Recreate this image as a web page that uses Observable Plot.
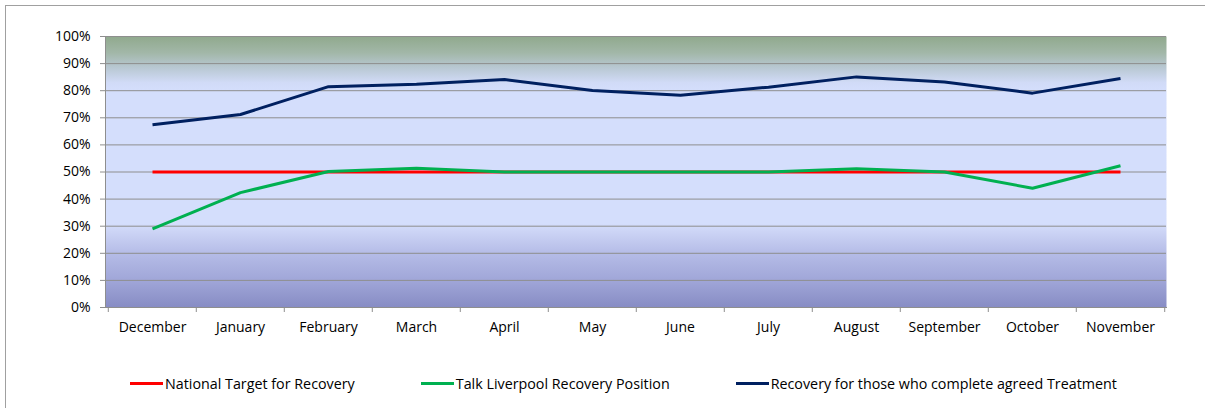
<!DOCTYPE html>
<html>
<head>
<meta charset="utf-8">
<script src="https://cdn.jsdelivr.net/npm/d3@7"></script>
<script src="https://cdn.jsdelivr.net/npm/@observablehq/plot@0.6"></script>
<style>
  html, body { margin: 0; padding: 0; background: #fff; }
  #wrap { position: relative; width: 1205px; height: 408px; overflow: hidden; font-family: "Open Sans", sans-serif; }
  #border { position: absolute; left: 5px; top: 5px; width: 1220px; height: 420px; border: 1px solid #a0a0a0; box-sizing: border-box; }
  #chart { position: absolute; left: 0; top: 0; }
  #legend { position: absolute; left: 130px; top: 374px; display: flex; align-items: center; font-size: 14.3px; color: #000; }
  .item { display: flex; align-items: center; margin-right: 66px; white-space: nowrap; }
  .swatch { width: 33px; height: 3px; margin-right: 2px; }
</style>
</head>
<body>
<div id="wrap">
  <div id="border"></div>
  <div id="chart"></div>
  <div id="legend"></div>
</div>
<script>
const months = ["December","January","February","March","April","May","June","July","August","September","October","November"];
const seriesNames = ["National Target for Recovery","Talk Liverpool Recovery Position","Recovery for those who complete agreed Treatment"];
const nationalTarget = [50,50,50,50,50,50,50,50,50,50,50,50];
const talkLiverpool = [29.0,42.4,50.2,51.4,50,50,50,50,51.2,50,44,52.3];
const completedTreatment = [67.4,71.2,81.5,82.4,84.1,80.1,78.3,81.3,85.1,83.2,79.1,84.5];
const yTicks = [0,10,20,30,40,50,60,70,80,90,100];
const colors = ["#ff0000","#00b050","#002060"];

const allSeries = [nationalTarget, talkLiverpool, completedTreatment];
const data = [];
allSeries.forEach((vals, s) => vals.forEach((v, i) => data.push({series: seriesNames[s], month: months[i], value: v})));

const W = 1205, H = 345, mL = 105, mR = 39, mT = 36, mB = 38;
const step = (W - mL - mR) / months.length;
const gridColor = "#8e8e8e";

const chart = Plot.plot({
  width: W, height: H,
  marginLeft: mL, marginRight: mR, marginTop: mT, marginBottom: mB,
  style: {fontFamily: "'Open Sans', sans-serif", fontSize: "14px", color: "#000", background: "transparent"},
  x: {type: "point", domain: months, padding: 0.5, label: null},
  y: {domain: [0, 100], label: null},
  color: {domain: seriesNames, range: colors},
  marks: [
    Plot.frame({fill: "url(#bgGrad)", stroke: "none"}),
    Plot.gridY(yTicks, {stroke: gridColor, strokeOpacity: 1, strokeWidth: 1}),
    Plot.frame({anchor: "left", stroke: gridColor}),
    Plot.frame({anchor: "bottom", stroke: gridColor}),
    Plot.axisY(yTicks, {tickFormat: d => d + "%", tickSize: 5, tickPadding: 10, stroke: gridColor, fill: "#000", label: null}),
    Plot.axisX({tickSize: 0, tickPadding: 15, fill: "#000", label: null}),
    Plot.axisX(months, {tickSize: 5, text: null, dx: -step / 2, stroke: gridColor, label: null}),
    Plot.axisX([months[months.length - 1]], {tickSize: 5, text: null, dx: step / 2, stroke: gridColor, label: null}),
    Plot.line(data, {x: "month", y: "value", z: "series", stroke: "series", strokeWidth: 3, strokeLinejoin: "round", strokeLinecap: "butt"})
  ]
});

const defs = d3.select(chart).insert("defs", ":first-child");
const grad = defs.append("linearGradient").attr("id", "bgGrad").attr("x1", 0).attr("y1", 0).attr("x2", 0).attr("y2", 1);
[
  [0, "#90a98d"], [0.06, "#a2b7a8"], [0.11, "#b6c6cf"], [0.17, "#d1dbf7"], [0.2, "#d4defc"],
  [0.69, "#d4defc"], [0.72, "#ccd4f5"], [0.8, "#b5bce7"], [0.9, "#a0a6d8"], [1, "#878cc4"]
].forEach(([o, c]) => grad.append("stop").attr("offset", o).attr("stop-color", c));

document.getElementById("chart").appendChild(chart);

const legend = document.getElementById("legend");
seriesNames.forEach((name, i) => {
  const item = document.createElement("div");
  item.className = "item";
  const sw = document.createElement("span");
  sw.className = "swatch";
  sw.style.background = colors[i];
  const t = document.createElement("span");
  t.textContent = name;
  item.appendChild(sw); item.appendChild(t);
  legend.appendChild(item);
});
</script>
</body>
</html>
